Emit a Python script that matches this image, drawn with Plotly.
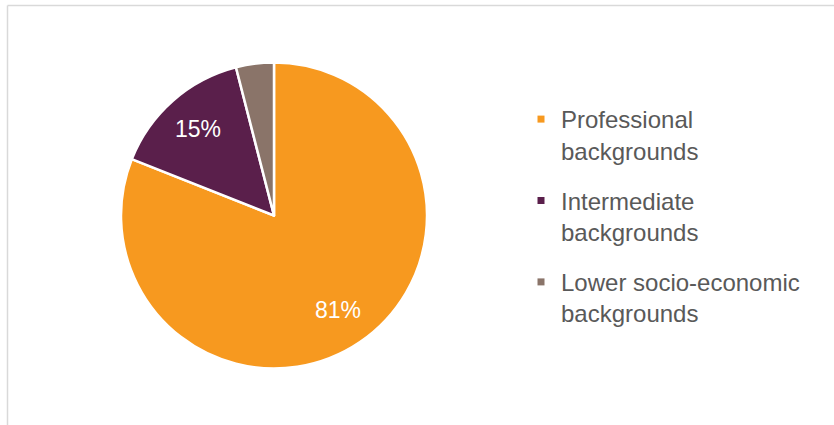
import math
import plotly.graph_objects as go

categories = ["Professional backgrounds", "Intermediate backgrounds", "Lower socio-economic backgrounds"]
legend_labels = ["Professional<br>backgrounds", "Intermediate<br>backgrounds", "Lower socio-economic<br>backgrounds"]
values = [81, 15, 4]
labels_shown = ["81%", "15%", ""]
colors = ["#F7991F", "#5A1F4B", "#8A7469"]

W, H = 834, 425
FONT = "Arial, Liberation Sans, sans-serif"

# pie geometry (pixels)
cx, cy, r = 274, 215.5, 153

fig = go.Figure()
fig.add_trace(go.Pie(
    labels=categories,
    values=values,
    textinfo="none",
    marker=dict(colors=colors, line=dict(color="white", width=2.5)),
    sort=False,
    direction="clockwise",
    rotation=0,
    showlegend=False,
    domain=dict(x=[(cx - r) / W, (cx + r) / W], y=[(H - cy - r) / H, (H - cy + r) / H]),
))

# legend entries (one per category)
for i, (lab, col) in enumerate(zip(legend_labels, colors)):
    fig.add_trace(go.Scatter(
        x=[None], y=[None], mode="markers", name=lab,
        marker=dict(symbol="square", size=7, color=col),
        legendgroup=f"g{i}", showlegend=True, hoverinfo="skip",
    ))

# percentage labels placed along the slice mid-angles
total = sum(values)
annotations = []
cum = 0
for v, t in zip(values, labels_shown):
    mid = (cum + v / 2) / total * 2 * math.pi
    cum += v
    if not t:
        continue
    px = cx + 0.75 * r * math.sin(mid)
    py = cy - 0.75 * r * math.cos(mid)
    annotations.append(dict(
        x=px / W, y=1 - py / H, xref="paper", yref="paper", text=t, showarrow=False,
        font=dict(family=FONT, size=23, color="white"), xanchor="center", yanchor="middle",
    ))

fig.update_layout(
    width=W, height=H,
    margin=dict(l=0, r=0, t=0, b=0),
    paper_bgcolor="white",
    plot_bgcolor="white",
    font=dict(family=FONT, size=24, color="#595959"),
    xaxis=dict(visible=False),
    yaxis=dict(visible=False),
    annotations=annotations,
    legend=dict(
        x=521 / W, y=1 - 97 / H, xanchor="left", yanchor="top",
        font=dict(family=FONT, size=24, color="#595959"),
        itemwidth=30,
        tracegroupgap=16,
        valign="top",
        bgcolor="rgba(0,0,0,0)",
    ),
    shapes=[
        dict(type="line", xref="paper", yref="paper", x0=7.5 / W, x1=1, y0=1 - 5.5 / H, y1=1 - 5.5 / H,
             line=dict(color="#D9D9D9", width=1.5)),
        dict(type="line", xref="paper", yref="paper", x0=7.5 / W, x1=7.5 / W, y0=0, y1=1 - 5.5 / H,
             line=dict(color="#D9D9D9", width=1.5)),
    ],
)

fig.write_html(
    "out.html",
    config={"displayModeBar": False},
    post_script="document.body.style.margin='0';document.body.style.overflow='hidden';",
)
